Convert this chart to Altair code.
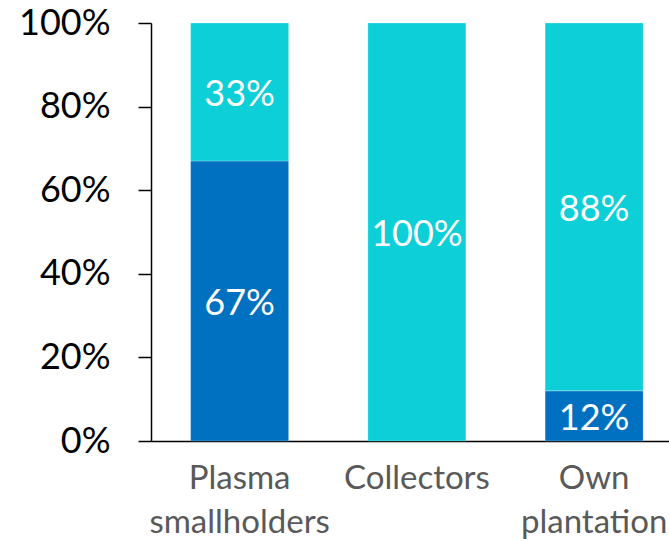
import altair as alt
import pandas as pd

categories = ["Plasma smallholders", "Collectors", "Own plantation"]
dark_share = [0.67, 0.0, 0.12]
light_share = [0.33, 1.0, 0.88]

rows = []
for c, d, l in zip(categories, dark_share, light_share):
    rows.append({"cat": c, "seg": "dark", "order": 0, "value": d})
    rows.append({"cat": c, "seg": "light", "order": 1, "value": l})
df = pd.DataFrame(rows)

FONT = "Lato"

x_enc = alt.X(
    "cat:N",
    sort=categories,
    title=None,
    scale=alt.Scale(range=[0, 531.75], paddingInner=0.447, paddingOuter=0.2235),
    axis=alt.Axis(
        labelAngle=0,
        ticks=False,
        domainColor="black",
        domainWidth=1.5,
        labelFont=FONT,
        labelFontSize=33,
        labelColor="#595959",
        labelPadding=21,
        labelLineHeight=44,
        labelExpr="split(datum.label, ' ')",
        labelLimit=400,
    ),
)

base = alt.Chart(df).transform_filter("datum.value > 0").transform_stack(
    stack="value", groupby=["cat"], as_=["y0", "y1"], sort=[alt.SortField("order")]
).transform_calculate(mid="(datum.y0 + datum.y1) / 2")

bars = base.mark_bar(stroke="white", strokeWidth=0.5, strokeOpacity=0.5).encode(
    x=x_enc,
    y=alt.Y(
        "y0:Q",
        title=None,
        scale=alt.Scale(domain=[0, 1], nice=False),
        axis=alt.Axis(
            values=[0, 0.2, 0.4, 0.6, 0.8, 1.0],
            format=".0%",
            grid=False,
            domainColor="black",
            domainWidth=1.5,
            tickColor="black",
            tickWidth=1.5,
            tickSize=13,
            labelFont=FONT,
            labelFontSize=36,
            labelColor="black",
            labelPadding=28,
        ),
    ),
    y2="y1:Q",
    color=alt.Color(
        "seg:N",
        scale=alt.Scale(domain=["dark", "light"], range=["#0070C0", "#0CCFD8"]),
        legend=None,
    ),
)

labels = base.mark_text(
    font=FONT, fontSize=36, color="white", baseline="middle", align="center", dy=3
).encode(
    x=alt.X("cat:N", sort=categories),
    y=alt.Y("mid:Q"),
    text=alt.Text("value:Q", format=".0%"),
)

chart = (
    alt.layer(bars, labels)
    .properties(
        width=518,
        height=418,
        padding={"left": 151, "top": 23, "right": 0, "bottom": 100},
        autosize=alt.AutoSizeParams(type="none"),
    )
    .configure_view(stroke=None)
)

chart.save("out.html", embed_options={"renderer": "svg", "actions": False})
